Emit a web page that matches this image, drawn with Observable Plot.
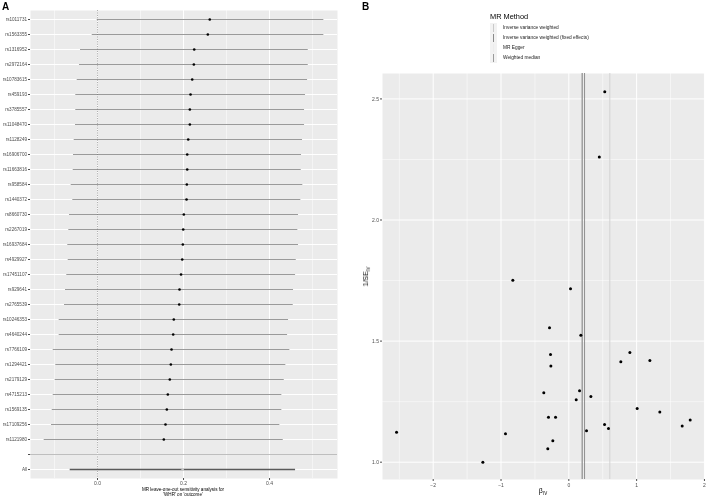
<!DOCTYPE html>
<html><head><meta charset="utf-8">
<script src="https://cdn.jsdelivr.net/npm/d3@7"></script>
<script src="https://cdn.jsdelivr.net/npm/@observablehq/plot@0.6"></script>
<style>
body{margin:0;background:#fff;font-family:"Liberation Sans",Arial,sans-serif;}
#wrap{position:relative;width:708px;height:499px;overflow:hidden;background:#fff;}
.abs{position:absolute;white-space:nowrap;will-change:transform;-webkit-font-smoothing:antialiased;}
.abs svg{display:block;}
</style></head><body><div id="wrap"></div>
<script>
// ---------- Panel A: leave-one-out ----------
const snps = ["rs1011731","rs1563355","rs1316952","rs2972164","rs10783615","rs459193","rs3785557","rs11048470","rs1128249","rs16906700","rs11663816","rs958584","rs1440372","rs8660730","rs2267019","rs16937684","rs4929927","rs17451107","rs929641","rs2765539","rs10246353","rs4640244","rs7766109","rs1294421","rs2179129","rs4715213","rs1569135","rs17109256","rs1121980"];
const looB  = [0.261,0.2565,0.2249,0.2240,0.2202,0.2163,0.2147,0.2147,0.2109,0.2086,0.2086,0.2077,0.2070,0.2007,0.1993,0.1984,0.1970,0.1942,0.1907,0.1900,0.1774,0.1760,0.1721,0.1705,0.1681,0.1635,0.1612,0.1581,0.1542];
const looLo = [-0.0007,-0.0123,-0.0395,-0.0419,-0.0472,-0.0505,-0.0505,-0.0512,-0.0542,-0.0558,-0.0565,-0.0612,-0.0574,-0.0651,-0.0667,-0.0691,-0.0681,-0.0714,-0.0744,-0.0767,-0.0891,-0.0891,-0.1030,-0.0970,-0.0984,-0.1030,-0.1053,-0.1070,-0.1240];
const looHi = [0.5263,0.5263,0.4900,0.4900,0.4884,0.4837,0.4814,0.4814,0.4767,0.4744,0.4737,0.4774,0.4728,0.4674,0.4658,0.4674,0.4621,0.4605,0.4558,0.4551,0.4442,0.4419,0.4472,0.4379,0.4342,0.4286,0.4286,0.4240,0.4319];
const allLabel = "All";
const allB = 0.198, allLo = -0.0635, allHi = 0.4605;
const aXTicks = [0, 0.2, 0.4];
const aXMinor = [-0.1, 0.1, 0.3, 0.5];
const aXTitle = ["MR leave-one-out sensitivity analysis for", "'WHR' on 'outcome'"];

// ---------- Panel B: funnel ----------
const funnelB     = [0.53,0.45,-0.826,0.025,-0.285,0.177,-0.27,-0.265,0.90,0.767,1.195,-0.369,0.158,0.109,0.325,1.008,1.342,-0.30,-0.196,0.527,0.585,0.261,1.672,1.79,-2.541,-0.934,-0.236,-0.31,-1.268];
const funnelInvSE = [2.53,2.26,1.751,1.716,1.555,1.524,1.445,1.397,1.453,1.415,1.42,1.287,1.295,1.258,1.271,1.222,1.207,1.186,1.186,1.156,1.139,1.13,1.149,1.174,1.124,1.117,1.088,1.055,1.0];
const methods   = ["Inverse variance weighted","Inverse variance weighted (fixed effects)","MR Egger","Weighted median"];
const methodB   = [0.197, 0.197, 0.605, 0.232];
const methodCol = ["#c4c4c4","#8a8a8a","#d2d2d2","#8f8f8f"];
const keyCol    = ["#c9c9c9","#8a8a8a","#ececec","#9a9a9a"];
const bXTicks = [-2,-1,0,1,2];
const bXMinor = [-2.5,-1.5,-0.5,0.5,1.5];
const bYTicks = [1.0,1.5,2.0,2.5];
const bYMinor = [1.25,1.75,2.25];

const FONT = '"Liberation Sans", Arial, sans-serif';
const wrap = document.getElementById("wrap");
function place(el, left, top){ const d=document.createElement("div"); d.className="abs"; d.style.left=left+"px"; d.style.top=top+"px"; d.appendChild(el); wrap.appendChild(d); return d; }
function text(html, left, top, css){ const d=document.createElement("div"); d.className="abs"; d.style.left=left+"px"; d.style.top=top+"px"; d.innerHTML=html; Object.assign(d.style, css||{}); wrap.appendChild(d); return d; }

// Panel A plot
const rows = snps.map((s,i)=>({snp:s, idx:i, b:looB[i], lo:looLo[i], hi:looHi[i]}));
const allRow = {snp:allLabel, idx:snps.length+1, b:allB, lo:allLo, hi:allHi};
const sepIdx = snps.length;
const tickIdx = [...rows.map(r=>r.idx), sepIdx, allRow.idx];
const labelOf = i => i===allRow.idx ? allLabel : (i===sepIdx ? "" : snps[i]);

const plotA = Plot.plot({
  width: 345, height: 499,
  marginLeft: 30, marginRight: 8, marginTop: 10, marginBottom: 21,
  style: {fontFamily: FONT, background: "transparent"},
  x: {domain: [-0.1558, 0.558]},
  y: {domain: [allRow.idx + 0.6, -0.6]},
  marks: [
    Plot.frame({fill: "#ebebeb", stroke: null}),
    Plot.ruleX(aXMinor, {stroke: "white", strokeWidth: 0.5}),
    Plot.ruleX(aXTicks, {stroke: "white", strokeWidth: 1}),
    Plot.ruleY(tickIdx, {stroke: "white", strokeWidth: 1}),
    Plot.ruleX([0], {stroke: "#9a9a9a", strokeWidth: 0.8, strokeDasharray: "1.2,1.2"}),
    Plot.ruleY(rows, {y: "idx", x1: "lo", x2: "hi", stroke: "#6e6e6e", strokeWidth: 0.7}),
    Plot.ruleY([allRow], {y: "idx", x1: "lo", x2: "hi", stroke: "#5a5a5a", strokeWidth: 1.6}),
    Plot.ruleY([sepIdx], {stroke: "#bebebe", strokeWidth: 1}),
    Plot.dot(rows, {x: "b", y: "idx", r: 1.3, fill: "black", stroke: null}),
    Plot.dot([allRow], {x: "b", y: "idx", r: 1.3, fill: "#c8c8c8", stroke: null}),
    Plot.axisX({ticks: aXTicks, tickFormat: d3.format(".1f"), tickSize: 2, tickPadding: 1, fontSize: 5, color: "#4d4d4d", label: null}),
    Plot.axisY({ticks: tickIdx, tickFormat: labelOf, tickSize: 2, tickPadding: 1.5, fontSize: 4.6, color: "#4d4d4d", label: null})
  ]
});
place(plotA, 0, 0);
text("A", 2, 1, {fontSize: "10px", fontWeight: "bold", color: "#000"});
text(aXTitle.join("<br>"), 183, 487, {fontSize: "4.6px", lineHeight: "5px", color: "#000", textAlign: "center", transform: "translateX(-50%)"});

// Panel B plot
const pts = funnelB.map((b,i)=>({b, y: funnelInvSE[i]}));
const lines = methods.map((m,i)=>({m, b: methodB[i], c: methodCol[i]}));
const plotB = Plot.plot({
  width: 353, height: 499,
  marginLeft: 27, marginRight: 4, marginTop: 73, marginBottom: 20,
  style: {fontFamily: FONT, background: "transparent"},
  x: {domain: [-2.748, 2.001]},
  y: {domain: [0.9285, 2.605]},
  marks: [
    Plot.frame({fill: "#ebebeb", stroke: null}),
    Plot.ruleX(bXMinor, {stroke: "white", strokeWidth: 0.5}),
    Plot.ruleY(bYMinor, {stroke: "white", strokeWidth: 0.5}),
    Plot.ruleX(bXTicks, {stroke: "white", strokeWidth: 1}),
    Plot.ruleY(bYTicks, {stroke: "white", strokeWidth: 1}),
    Plot.ruleX(lines, {x: "b", stroke: "c", strokeWidth: 1}),
    Plot.dot(pts, {x: "b", y: "y", r: 1.5, fill: "black", stroke: null}),
    Plot.axisX({ticks: bXTicks, tickFormat: d3.format("d"), tickSize: 2, tickPadding: 1.5, fontSize: 5, color: "#4d4d4d", label: null}),
    Plot.axisY({ticks: bYTicks, tickFormat: d3.format(".1f"), tickSize: 2, tickPadding: 1.5, fontSize: 5, color: "#4d4d4d", label: null})
  ]
});
place(plotB, 355, 0);
text("B", 362, 1, {fontSize: "10px", fontWeight: "bold", color: "#000"});
text("β<sub style='font-size:4.5px'>IV</sub>", 543, 487, {fontSize: "7px", color: "#000", transform: "translateX(-50%)"});
const yt = text("1/SE<sub style='font-size:4.5px'>IV</sub>", 0, 0, {fontSize: "7px", color: "#000", willChange: "auto", transformOrigin: "center center"});
{
  const w = yt.offsetWidth, h = yt.offsetHeight;
  yt.style.left = Math.round(366 - w/2) + "px";
  yt.style.top = Math.round(276 - h/2) + "px";
  yt.style.transform = "rotate(-90deg)";
}

// Legend
text("MR Method", 490, 12, {fontSize: "7.4px", color: "#000"});
methods.forEach((m,i)=>{
  const cy = 28 + i*10;
  const key = document.createElement("div");
  key.className = "abs";
  Object.assign(key.style, {left: "490px", top: (cy-5)+"px", width: "7px", height: "10px", background: "#f2f2f2"});
  const ln = document.createElement("div");
  Object.assign(ln.style, {position: "absolute", left: "3px", top: "1px", width: "1px", height: "8px", background: keyCol[i]});
  key.appendChild(ln);
  wrap.appendChild(key);
  text(m, 503, cy-3.2, {fontSize: "4.8px", color: "#1a1a1a"});
});
</script></body></html>
